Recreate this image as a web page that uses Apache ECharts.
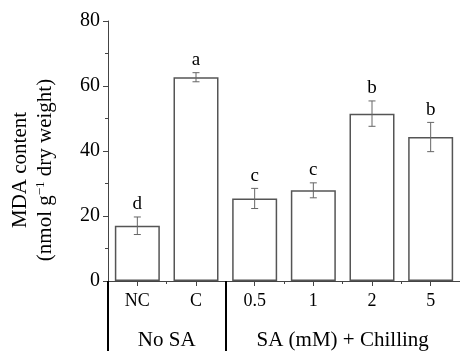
<!DOCTYPE html>
<html>
<head>
<meta charset="utf-8">
<script src="https://cdn.jsdelivr.net/npm/echarts@6/dist/echarts.min.js"></script>
<style>
html,body{margin:0;padding:0;background:#fff;}
#chart{width:460px;height:351px;}
</style>
</head>
<body>
<div id="chart"></div>
<script>
const categories = ['NC', 'C', '0.5', '1', '2', '5'];
const means = [17.0, 62.7, 25.4, 27.9, 51.5, 44.3];
const errors = [2.7, 1.4, 3.1, 2.3, 3.9, 4.5];
const letters = ['d', 'a', 'c', 'c', 'b', 'b'];
const yMin = 0, yMax = 80, yStep = 20;
const groupNames = ['No SA', 'SA (mM) + Chilling'];
const groupStarts = [0, 2];
const groupEnds = [2, 6];

const FONT = '"Liberation Serif", "Times New Roman", serif';
const groupCenters = groupNames.map((n, i) => (groupStarts[i] + groupEnds[i]) / 2);

const chart = echarts.init(document.getElementById('chart'), null, {renderer: 'canvas'});

const option = {
  animation: false,
  backgroundColor: '#fff',
  grid: {left: 108, top: 21, width: 357, height: 261, containLabel: false},
  xAxis: [
    {
      type: 'category',
      data: categories,
      position: 'bottom',
      axisLine: {show: true, lineStyle: {color: '#444', width: 1}},
      axisTick: {show: true, alignWithLabel: true, length: 5, lineStyle: {color: '#444'}},
      axisLabel: {color: '#000', fontFamily: FONT, fontSize: 18, margin: 11},
      splitLine: {show: false}
    },
    {
      type: 'category',
      data: categories,
      position: 'bottom',
      axisLine: {show: false},
      axisTick: {show: true, length: 3, lineStyle: {color: '#444'}},
      axisLabel: {show: false},
      splitLine: {show: false}
    },
    {
      type: 'value',
      min: 0,
      max: categories.length,
      interval: 1,
      position: 'bottom',
      axisLine: {show: false},
      axisTick: {show: true, customValues: groupStarts, length: 70, lineStyle: {color: '#000', width: 2}},
      axisLabel: {
        show: true,
        customValues: groupCenters,
        color: '#000', fontFamily: FONT, fontSize: 21, margin: 49,
        formatter: function (v) {
          const i = groupCenters.indexOf(v);
          return i >= 0 ? groupNames[i] : '';
        }
      },
      splitLine: {show: false}
    }
  ],
  yAxis: {
    type: 'value',
    min: yMin, max: yMax, interval: yStep,
    axisLine: {show: true, lineStyle: {color: '#444', width: 1}},
    axisTick: {show: true, length: 5, lineStyle: {color: '#444'}},
    minorTick: {show: true, splitNumber: 2, length: 3, lineStyle: {color: '#444'}},
    axisLabel: {color: '#000', fontFamily: FONT, fontSize: 20, margin: 8},
    splitLine: {show: false}
  },
  graphic: [{
    type: 'text',
    x: 33, y: 170,
    rotation: Math.PI / 2,
    style: {
      text: 'MDA content\n(nmol g{sup|−1} dry weight)',
      fontFamily: FONT, fontSize: 21, fill: '#000',
      align: 'center', verticalAlign: 'middle', lineHeight: 25,
      rich: {
        sup: {fontFamily: FONT, fontSize: 13, fill: '#000', padding: [0, 0, 9, 0]}
      }
    }
  }],
  series: [
    {
      type: 'bar',
      data: means,
      xAxisIndex: 0,
      barWidth: 45,
      itemStyle: {color: '#fff', borderColor: '#555', borderWidth: 1.5},
      z: 2
    },
    {
      type: 'custom',
      xAxisIndex: 0,
      data: means.map((m, i) => [i, m, errors[i], letters[i]]),
      renderItem: function (params, api) {
        const x = api.value(0);
        const m = api.value(1);
        const e = api.value(2);
        const top = api.coord([x, m + e]);
        const bot = api.coord([x, m - e]);
        const cw = 3.5;
        const ls = {stroke: '#666', lineWidth: 1};
        return {
          type: 'group',
          children: [
            {type: 'line', shape: {x1: top[0], y1: top[1], x2: bot[0], y2: bot[1]}, style: ls},
            {type: 'line', shape: {x1: top[0] - cw, y1: top[1], x2: top[0] + cw, y2: top[1]}, style: ls},
            {type: 'line', shape: {x1: bot[0] - cw, y1: bot[1], x2: bot[0] + cw, y2: bot[1]}, style: ls},
            {type: 'text', style: {
              text: letters[params.dataIndex], x: top[0], y: top[1] - 3,
              align: 'center', verticalAlign: 'bottom',
              fontFamily: FONT, fontSize: 19, fill: '#000'
            }}
          ]
        };
      },
      z: 3
    }
  ]
};
chart.setOption(option);
</script>
</body>
</html>
